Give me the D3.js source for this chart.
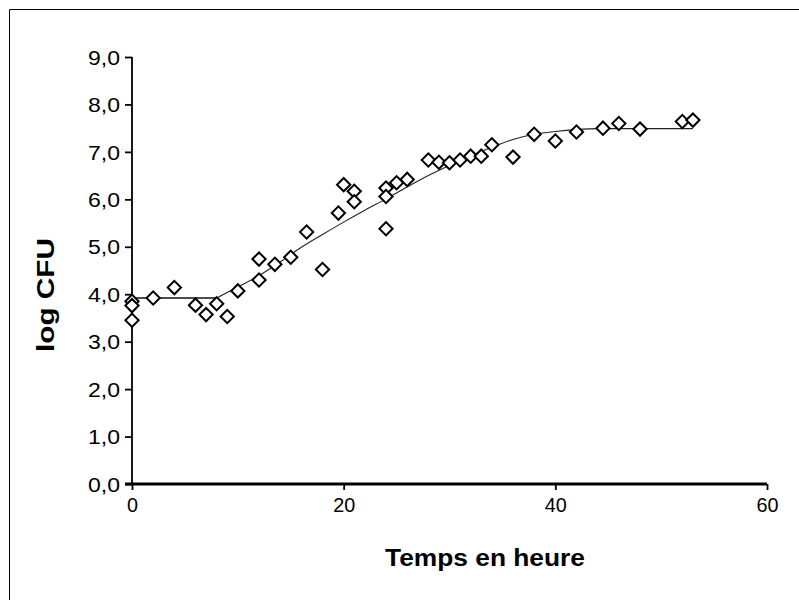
<!DOCTYPE html>
<html>
<head>
<meta charset="utf-8">
<script src="https://cdn.jsdelivr.net/npm/d3@7"></script>
<style>
  html, body { margin: 0; padding: 0; background: #fff; }
  svg { display: block; }
  text { font-family: "Liberation Sans", Arial, sans-serif; fill: #000; }
</style>
</head>
<body>
<svg id="chart" width="799" height="600"></svg>
<script>
// Measured counts (log CFU) over time (hours)
const hours = [0, 0, 0, 2, 4, 6, 7, 8, 9, 10, 12, 12, 13.5, 15, 16.5, 18, 19.5, 20, 21, 21,
               24, 24, 24, 25, 26, 28, 29, 30, 31, 32, 33, 34, 36, 38, 40, 42, 44.5, 46, 48, 52, 53];
const logCfu = [3.85, 3.76, 3.45, 3.92, 4.14, 3.77, 3.57, 3.80, 3.53, 4.07, 4.30, 4.74, 4.63, 4.78, 5.31, 4.52, 5.71, 6.31, 6.17, 5.95,
                6.24, 6.06, 5.38, 6.35, 6.42, 6.83, 6.78, 6.77, 6.83, 6.91, 6.91, 7.15, 6.89, 7.37, 7.23, 7.42, 7.50, 7.60, 7.48, 7.64, 7.67];

// Fitted growth curve (lag phase up to 8 h, then growth and stationary phase)
const lagEnd = 8;
const fitHours = [0, 8, 10, 12, 14, 16, 18, 20, 22, 24, 26, 28, 30, 32, 34, 36, 38, 40, 42, 44, 53];
const fitLog   = [3.92, 3.92, 4.15, 4.39, 4.68, 4.99, 5.26, 5.52, 5.77, 6.01, 6.26, 6.50, 6.72, 6.92, 7.10, 7.26, 7.37, 7.43, 7.47, 7.49, 7.49];

const xTicks = [0, 20, 40, 60];
const yTicks = [0, 1, 2, 3, 4, 5, 6, 7, 8, 9];

const xLabel = "Temps en heure";
const yLabel = "log CFU";

const svg = d3.select("#chart");

// outer frame (top and left edges)
svg.append("line").attr("x1", 9.5).attr("y1", 9.5).attr("x2", 799).attr("y2", 9.5)
  .attr("stroke", "#000").attr("stroke-width", 1);
svg.append("line").attr("x1", 9.5).attr("y1", 9.5).attr("x2", 9.5).attr("y2", 600)
  .attr("stroke", "#000").attr("stroke-width", 1);

const x = d3.scaleLinear().domain([0, 60]).range([132, 767]);
const y = d3.scaleLinear().domain([0, 9]).range([484, 57]);

const fmt = d => d3.format(".1f")(d).replace(".", ",");

// Y axis
const yAxis = svg.append("g").attr("transform", `translate(${x(0)},0)`)
  .call(d3.axisLeft(y).tickValues(yTicks).tickFormat(fmt).tickSize(7).tickPadding(5));
yAxis.select(".domain").attr("stroke-width", 1.8).attr("d", `M0,${y(9)}V${y(0)}`);
yAxis.selectAll(".tick line").attr("stroke-width", 1.8);
yAxis.selectAll(".tick text")
  .style("font-size", "20px")
  .attr("textLength", 32).attr("lengthAdjust", "spacingAndGlyphs")
  .attr("dy", "0.36em");

// X axis
const xAxis = svg.append("g").attr("transform", `translate(0,${y(0)})`)
  .call(d3.axisBottom(x).tickValues(xTicks).tickSize(6).tickPadding(8));
xAxis.select(".domain").attr("stroke-width", 3).attr("d", `M${x(0) - 7},0H${x(60)}`);
xAxis.selectAll(".tick line").attr("stroke-width", 1.8);
xAxis.selectAll(".tick text")
  .style("font-size", "20px")
  .each(function (d) {
    d3.select(this).attr("textLength", String(d).length * 11).attr("lengthAdjust", "spacingAndGlyphs");
  })
  .attr("dy", "0.71em");

// Fitted curve: straight lag segment, smooth growth segment
const fit = fitHours.map((h, i) => [h, fitLog[i]]);
const lagPart = fit.filter(d => d[0] <= lagEnd);
const growPart = fit.filter(d => d[0] >= lagEnd);
svg.append("path")
  .attr("d", d3.line().x(d => x(d[0])).y(d => y(d[1]))(lagPart))
  .attr("fill", "none").attr("stroke", "#111").attr("stroke-width", 1.4);
svg.append("path")
  .attr("d", d3.line().x(d => x(d[0])).y(d => y(d[1])).curve(d3.curveMonotoneX)(growPart))
  .attr("fill", "none").attr("stroke", "#222").attr("stroke-width", 1.1);

// Observations as open diamonds
const diamond = d3.symbol().type(d3.symbolSquare).size(88);
svg.append("g").selectAll("path")
  .data(hours)
  .join("path")
  .attr("d", diamond)
  .attr("transform", (d, i) => `translate(${x(d)},${y(logCfu[i])}) rotate(45)`)
  .attr("fill", "#fff")
  .attr("stroke", "#000")
  .attr("stroke-width", 2);

// Axis titles
svg.append("text")
  .attr("x", 485).attr("y", 566)
  .attr("text-anchor", "middle")
  .style("font-size", "23px").style("font-weight", "bold")
  .attr("textLength", 200).attr("lengthAdjust", "spacingAndGlyphs")
  .text(xLabel);

svg.append("text")
  .attr("transform", `translate(54,295) rotate(-90)`)
  .attr("text-anchor", "middle")
  .style("font-size", "24px").style("font-weight", "bold")
  .attr("textLength", 114).attr("lengthAdjust", "spacingAndGlyphs")
  .text(yLabel);
</script>
</body>
</html>
